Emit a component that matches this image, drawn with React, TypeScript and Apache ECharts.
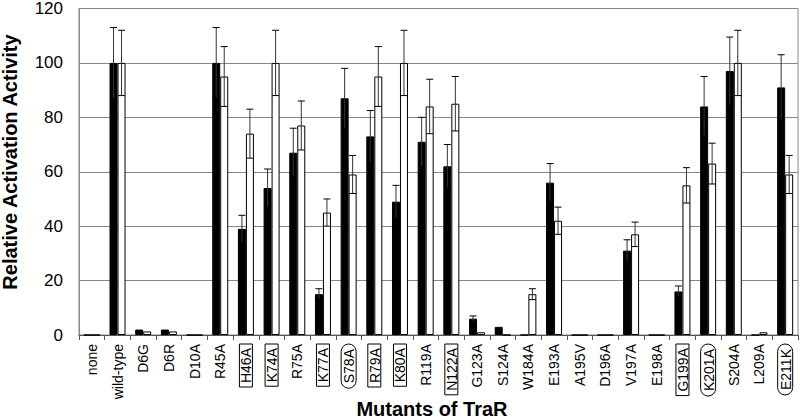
import React, { useEffect, useRef } from "react";
import * as echarts from "echarts";

const categories = [
  "none", "wild-type", "D6G", "D6R", "D10A", "R45A", "H46A", "K74A", "R75A", "K77A",
  "S78A", "R79A", "K80A", "R119A", "N122A", "G123A", "S124A", "W184A", "E193A", "A195V",
  "D196A", "V197A", "E198A", "G199A", "K201A", "S204A", "L209A", "E211K",
];
const blackValues = [0, 100, 2, 2, 0, 100, 39, 54, 67, 15, 87, 73, 49, 71, 62, 6, 3, 0, 56, 0, 0, 31, 0, 16, 84, 97, 0, 91];
const blackErrors = [0, 13, 0, 0, 0, 13, 5, 7, 9, 2, 11, 9.5, 6, 9, 8, 1, 0, 0, 7, 0, 0, 4, 0, 2, 11, 12.5, 0, 12];
const whiteValues = [0, 100, 1.3, 1.3, 0, 95, 74, 100, 77, 45, 59, 95, 100, 84, 85, 1, 0, 15, 42, 0, 0, 37, 0, 55, 63, 100, 1, 59];
const whiteErrors = [0, 12, 0, 0, 0, 11, 9, 12, 9, 5, 7, 11, 12, 10, 10, 0, 0, 2, 5, 0, 0, 4.5, 0, 6.5, 7.5, 12, 0, 7];
const boxedLabels = ["H46A", "K74A", "K77A", "R79A", "K80A", "N122A", "G199A"];
const circledLabels = ["S78A", "K201A", "E211K"];
const yTicks = { min: 0, max: 120, interval: 20 };

const LABEL_FONT = "'Liberation Sans Narrow', 'Arial Narrow', 'Liberation Sans', Arial, sans-serif";
const MAIN_FONT = "'Liberation Sans', Arial, Helvetica, sans-serif";

function errorSeries(values: number[], errors: number[], offset: number) {
  return {
    type: "custom",
    coordinateSystem: "cartesian2d",
    z: 5,
    encode: { x: 0, y: 1 },
    data: values.map((v, i) => [i, v, errors[i]]),
    renderItem: (params: any, api: any) => {
      const idx = api.value(0);
      const v = api.value(1);
      const e = api.value(2);
      if (!e) return null;
      const top = api.coord([idx, v + e]);
      const bot = api.coord([idx, v - e]);
      const x = top[0] + offset;
      const half = 3.5;
      const style = { stroke: "#000", lineWidth: 1 };
      return {
        type: "group",
        children: [
          { type: "line", shape: { x1: x, y1: top[1], x2: x, y2: bot[1] }, style: { stroke: "#333", lineWidth: 1 } },
          { type: "line", shape: { x1: x - half, y1: top[1], x2: x + half, y2: top[1] }, style },
          { type: "line", shape: { x1: x - half, y1: bot[1], x2: x + half, y2: bot[1] }, style },
        ],
      };
    },
  };
}

export default function App() {
  const ref = useRef<HTMLDivElement>(null);
  useEffect(() => {
    document.body.style.margin = "0";
    if (!ref.current) return;
    const chart = echarts.init(ref.current, null, { renderer: "svg" });
    chart.setOption({
      animation: false,
      backgroundColor: "#fff",
      grid: { left: 79, right: 2, top: 2, bottom: 85, show: true, borderColor: "#888", borderWidth: 1 },
      xAxis: {
        type: "category",
        data: categories,
        axisLine: { lineStyle: { color: "#555", width: 1 } },
        axisTick: { show: true, length: 5, lineStyle: { color: "#555" } },
        axisLabel: {
          interval: 0,
          rotate: 90,
          margin: 9,
          fontSize: 14,
          fontFamily: LABEL_FONT,
          color: "#000",
          formatter: (val: string) =>
            boxedLabels.includes(val) ? `{box|${val}}` : circledLabels.includes(val) ? `{oval|${val}}` : val,
          rich: {
            box: {
              fontSize: 14, fontFamily: LABEL_FONT, color: "#000",
              borderColor: "#000", borderWidth: 1, padding: [0, 4, -1, 4],
            },
            oval: {
              fontSize: 14, fontFamily: LABEL_FONT, color: "#000",
              borderColor: "#000", borderWidth: 1, borderRadius: 12, padding: [1, 5, 0, 5],
            },
          },
        },
      },
      yAxis: {
        type: "value",
        min: yTicks.min,
        max: yTicks.max,
        interval: yTicks.interval,
        axisLine: { show: true, lineStyle: { color: "#888" } },
        axisTick: { show: false },
        splitLine: { lineStyle: { color: "#888", width: 1 } },
        axisLabel: { fontSize: 17, fontFamily: MAIN_FONT, color: "#000", margin: 16 },
      },
      graphic: [
        {
          type: "text",
          x: 10,
          y: 162,
          rotation: Math.PI / 2,
          style: {
            text: "Relative Activation Activity",
            font: `bold 20px ${MAIN_FONT}`,
            fill: "#000",
            textAlign: "center",
            textVerticalAlign: "middle",
          },
        },
        {
          type: "text",
          x: 432,
          y: 409,
          style: {
            text: "Mutants of TraR",
            font: `bold 20px ${MAIN_FONT}`,
            fill: "#000",
            textAlign: "center",
            textVerticalAlign: "middle",
          },
        },
      ],
      series: [
        {
          type: "bar",
          data: blackValues,
          barWidth: 8,
          barGap: "0%",
          itemStyle: { color: "#000", borderColor: "#000", borderWidth: 1 },
        },
        {
          type: "bar",
          data: whiteValues,
          barWidth: 8,
          barGap: "0%",
          itemStyle: { color: "#fff", borderColor: "#000", borderWidth: 1 },
        },
        errorSeries(blackValues, blackErrors, -4),
        errorSeries(whiteValues, whiteErrors, 4),
      ],
    });
    return () => chart.dispose();
  }, []);
  return <div ref={ref} style={{ width: 800, height: 420 }} />;
}
